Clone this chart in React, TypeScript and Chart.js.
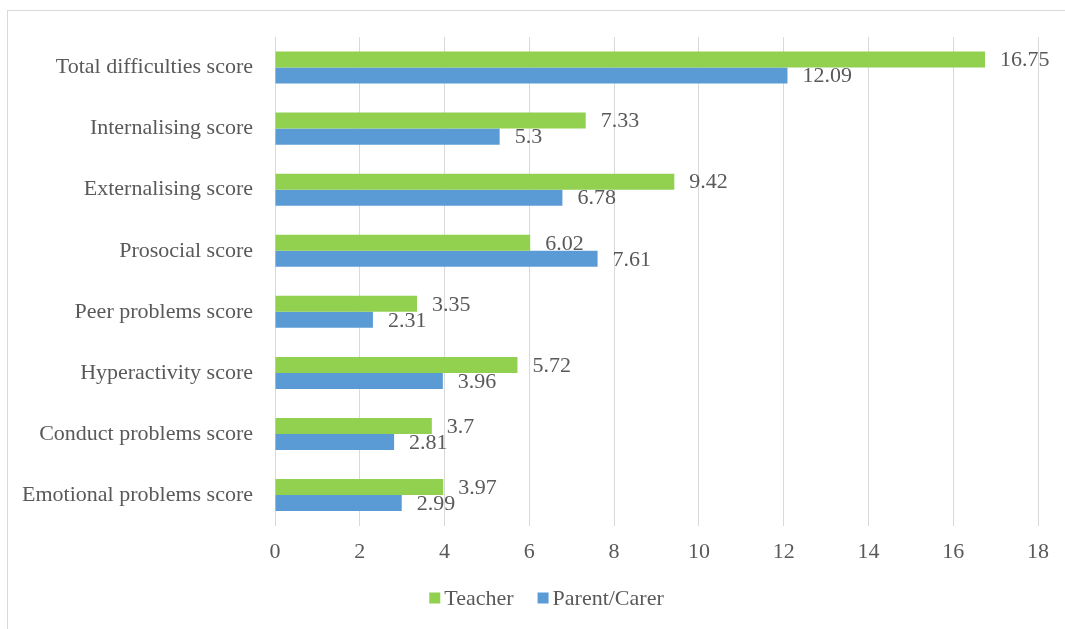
import React, { useEffect, useRef } from "react";
import { Chart, registerables } from "chart.js";

Chart.register(...registerables);

const categories = [
  "Total difficulties score",
  "Internalising score",
  "Externalising score",
  "Prosocial score",
  "Peer problems score",
  "Hyperactivity score",
  "Conduct problems score",
  "Emotional problems score",
];
const teacherValues = [16.75, 7.33, 9.42, 6.02, 3.35, 5.72, 3.7, 3.97];
const parentValues = [12.09, 5.3, 6.78, 7.61, 2.31, 3.96, 2.81, 2.99];
const seriesNames = ["Teacher", "Parent/Carer"];
const seriesColors = ["#92D050", "#5B9BD5"];

const FONT = "'Liberation Serif', 'Times New Roman', serif";
const TEXT = "#595959";
const FS = 22;

const labelPlugin = {
  id: "valueLabels",
  afterDatasetsDraw(chart: any) {
    const ctx = chart.ctx;
    ctx.save();
    ctx.font = `${FS}px ${FONT}`;
    ctx.fillStyle = TEXT;
    ctx.textAlign = "left";
    ctx.textBaseline = "middle";
    chart.data.datasets.forEach((ds: any, di: number) => {
      const meta = chart.getDatasetMeta(di);
      meta.data.forEach((el: any, i: number) => {
        ctx.fillText(String(ds.data[i]), el.x + 15, el.y + 1);
      });
    });
    ctx.restore();
  },
};

const legendPlugin = {
  id: "customLegend",
  afterDraw(chart: any) {
    const ctx = chart.ctx;
    ctx.save();
    ctx.font = `${FS}px ${FONT}`;
    ctx.textBaseline = "middle";
    ctx.textAlign = "left";
    const box = 11;
    const gap = 4;
    const itemGap = 24;
    const items = chart.data.datasets.map((ds: any) => ({
      label: ds.label,
      color: ds.backgroundColor,
      w: box + gap + ctx.measureText(ds.label).width,
    }));
    const total = items.reduce((s: number, it: any) => s + it.w, 0) + itemGap * (items.length - 1);
    let x = chart.width / 2 + 14 - total / 2;
    const y = 598;
    items.forEach((it: any) => {
      ctx.fillStyle = it.color;
      ctx.fillRect(x, y - box / 2, box, box);
      ctx.fillStyle = TEXT;
      ctx.fillText(it.label, x + box + gap, y + 1);
      x += it.w + itemGap;
    });
    ctx.restore();
  },
};

export default function App() {
  const ref = useRef<HTMLCanvasElement | null>(null);
  useEffect(() => {
    if (!ref.current) return;
    const chart = new Chart(ref.current, {
      type: "bar",
      data: {
        labels: categories,
        datasets: [
          {
            label: seriesNames[0],
            data: teacherValues,
            backgroundColor: seriesColors[0],
            categoryPercentage: 0.525,
            barPercentage: 1,
          },
          {
            label: seriesNames[1],
            data: parentValues,
            backgroundColor: seriesColors[1],
            categoryPercentage: 0.525,
            barPercentage: 1,
          },
        ],
      },
      options: {
        indexAxis: "y",
        animation: false,
        responsive: false,
        maintainAspectRatio: false,
        layout: { padding: { top: 37, right: 27, bottom: 51, left: 0 } },
        scales: {
          x: {
            min: 0,
            max: 18,
            ticks: {
              stepSize: 2,
              color: TEXT,
              font: { family: FONT, size: FS },
              padding: 13,
            },
            grid: { color: "#d9d9d9", drawTicks: false, lineWidth: 1 },
            border: { display: false },
          },
          y: {
            ticks: {
              color: TEXT,
              font: { family: FONT, size: FS },
              padding: 22,
            },
            grid: { display: false, drawTicks: false },
            border: { display: false },
            afterFit(axis: any) {
              axis.width = 275;
            },
          },
        },
        plugins: {
          legend: { display: false },
          tooltip: { enabled: false },
        },
      },
      plugins: [labelPlugin, legendPlugin],
    });
    return () => chart.destroy();
  }, []);
  return (
    <div style={{ position: "fixed", left: 0, top: 0, width: 1065, height: 629, background: "#fff" }}>
      <div
        style={{
          position: "absolute",
          left: 7,
          top: 10,
          right: 0,
          bottom: 0,
          borderLeft: "1px solid #d9d9d9",
          borderTop: "1px solid #d9d9d9",
        }}
      />
      <canvas ref={ref} width={1065} height={629} style={{ position: "absolute", left: 0, top: 0 }} />
    </div>
  );
}
